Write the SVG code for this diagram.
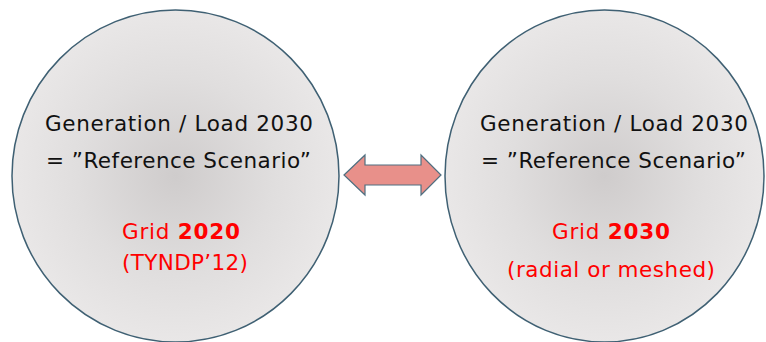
<svg xmlns="http://www.w3.org/2000/svg" width="766" height="342" viewBox="0 0 766 342">
<defs>
<radialGradient id="g" cx="0.5" cy="0.5" r="0.5">
<stop offset="0" stop-color="#cfcccc"/>
<stop offset="0.6" stop-color="#e0dede"/>
<stop offset="1" stop-color="#e9e7e7"/>
</radialGradient>
</defs>
<style>
.c{fill:url(#g);stroke:#3f6073;stroke-width:1.5}
.t{font-family:"DejaVu Sans",Verdana,sans-serif;font-size:21.5px;text-anchor:middle;fill:#111}
.r{fill:#ff0000}
.b{font-weight:bold}
</style>
<rect width="766" height="342" fill="#ffffff"/>
<g id="left">
<ellipse class="c" cx="175.5" cy="176" rx="163.5" ry="166"/>
<text class="t" x="179" y="131" textLength="268" lengthAdjust="spacing">Generation / Load 2030</text>
<text class="t" x="178.5" y="168" textLength="265" lengthAdjust="spacing">= ”Reference Scenario”</text>
<text class="t r" x="181" y="239" textLength="118" lengthAdjust="spacing">Grid <tspan class="b">2020</tspan></text>
<text class="t r" x="185" y="270" textLength="126" lengthAdjust="spacing">(TYNDP’12)</text>
</g>
<g id="right">
<ellipse class="c" cx="604.5" cy="176" rx="159.5" ry="166"/>
<text class="t" x="614" y="131" textLength="268" lengthAdjust="spacing">Generation / Load 2030</text>
<text class="t" x="613.5" y="168" textLength="265" lengthAdjust="spacing">= ”Reference Scenario”</text>
<text class="t r" x="611" y="239" textLength="118" lengthAdjust="spacing">Grid <tspan class="b">2030</tspan></text>
<text class="t r" x="611" y="277" textLength="208" lengthAdjust="spacing">(radial or meshed)</text>
</g>
<g id="connectors">
<path d="M344,175 L365,155 L365,165 L421,165 L421,155 L441,175 L421,195 L421,185 L365,185 L365,195 Z" fill="#e8908a" stroke="#4f6f80" stroke-width="1.2"/>
</g>
</svg>
